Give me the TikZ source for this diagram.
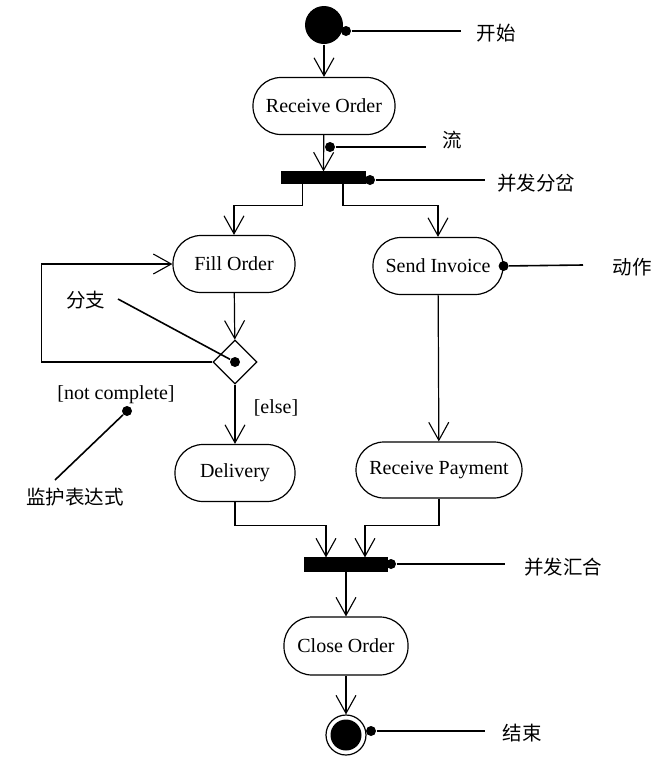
\documentclass[tikz,border=0pt]{standalone}
\usepackage{fontspec}
\setmainfont{Liberation Serif}
\newfontfamily\cjk{Noto Sans CJK SC}
\usetikzlibrary{arrows.meta,shapes.geometric}
\begin{document}
\begin{tikzpicture}[x=1pt,y=-1pt,
  line width=1.2pt,
  act/.style={draw,rectangle,rounded corners=28pt,minimum height=57pt,inner sep=0pt,font=\fontsize{20}{23}\selectfont},
  bar/.style={fill=black,draw=black,rectangle,minimum height=11pt,inner sep=0pt},
  arr/.style={-{Straight Barb[length=18pt,width=20pt,line width=1.1pt]}},
  dotn/.style={circle,fill=black,minimum size=10pt,inner sep=0pt},
  note/.style={font=\cjk\fontsize{19.5}{22}\selectfont,inner sep=0pt},
  guard/.style={font=\fontsize{20}{23}\selectfont,inner sep=0pt},
  lead/.style={line width=1.6pt}]
\useasboundingbox[fill=white] (0,0) rectangle (672,772);

% nodes
\node[circle,fill=black,minimum size=38pt,inner sep=0pt] (start) at (324,25) {};
\node[act,minimum width=142pt] (recv) at (324,106) {Receive Order};
\node[bar,minimum width=83pt] (fork) at (323.5,177.5) {};
\node[act,minimum width=122pt] (fill) at (234,264) {Fill Order};
\node[act,minimum width=130pt] (send) at (438,266) {Send Invoice};
\node[draw,diamond,minimum width=44pt,minimum height=44pt,inner sep=0pt,shape aspect=1] (dec) at (235,362) {};
\node[act,minimum width=120pt] (deliv) at (235,473) {Delivery};
\node[act,minimum width=166pt,minimum height=56pt] (rpay) at (439,470) {Receive Payment};
\node[bar,minimum width=82pt,minimum height=13pt] (join) at (346,564.5) {};
\node[act,minimum width=124pt,minimum height=58pt] (close) at (346,646) {Close Order};
\node[circle,draw,minimum size=40pt,inner sep=0pt] (end) at (346,735) {};
\fill (end.center) circle (15.5pt);

% flows
\draw[arr] (start) -- (recv);
\draw[arr] (recv) -- (fork.north);
\draw[arr] ([xshift=-21pt]fork.south) -- ++(0,22) -| (fill.north);
\draw[arr] ([xshift=19.5pt]fork.south) -- ++(0,22) -| (send.north);
\draw[arr] (fill) -- (dec);
\draw[arr] (dec.west) -- ++(-171,0) |- (fill.west);
\draw[arr] (dec) -- (deliv);
\draw[arr] (send) -- (rpay);
\draw[arr] (deliv.south) -- ++(0,23) -| ([xshift=-20pt]join.north);
\draw[arr] (rpay.south) -- ++(0,27) -| ([xshift=19pt]join.north);
\draw[arr] (join) -- (close);
\draw[arr] (close) -- (end);

% annotations
\node[dotn] (d1) at (346,31) {};
\coordinate (e1) at (461,31);
\draw[lead] (d1) -- (e1);
\node[note] (t1) at (496,33) {开始};

\node[dotn] (d2) at (330,147) {};
\coordinate (e2) at (426,147);
\draw[lead] (d2) -- (e2);
\node[note] (t2) at (452,140) {流};

\node[dotn] (d3) at (370,180) {};
\coordinate (e3) at (485,180);
\draw[lead] (d3) -- (e3);
\node[note] (t3) at (536,183) {并发分岔};

\node[dotn] (d4) at (send.east) {};
\coordinate (e4) at (583,265);
\draw[lead] (d4) -- (e4);
\node[note] (t4) at (632,267) {动作};

\node[dotn] (d5) at (dec.center) {};
\coordinate (e5) at (118,299);
\draw[lead] (d5) -- (e5);
\node[note] (t5) at (86,300) {分支};

\node[guard] (g1) at (116,395) {[not complete]};
\node[dotn] (d6) at (127,411) {};
\coordinate (e6) at (55,480);
\draw[lead] (d6) -- (e6);
\node[note] (t6) at (75,497) {监护表达式};

\node[guard] (g2) at (276,408) {[else]};

\node[dotn] (d7) at (391,564) {};
\coordinate (e7) at (505,564);
\draw[lead] (d7) -- (e7);
\node[note] (t7) at (563,567) {并发汇合};

\node[dotn] (d8) at (371,731) {};
\coordinate (e8) at (485,731);
\draw[lead] (d8) -- (e8);
\node[note] (t8) at (522,733) {结束};
\end{tikzpicture}
\end{document}
